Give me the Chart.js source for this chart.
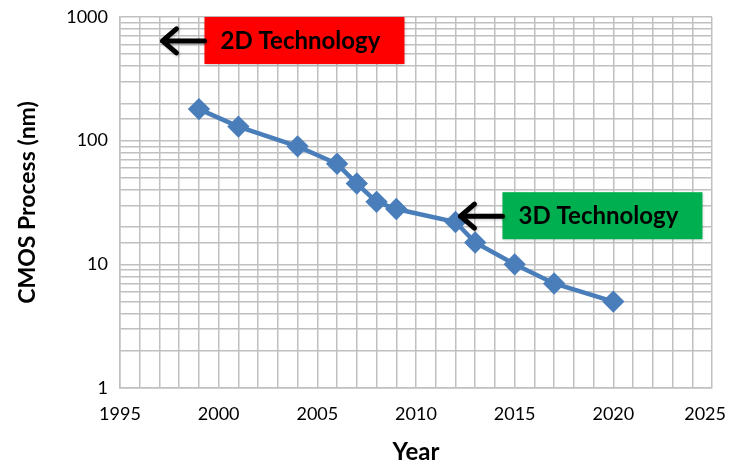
<!DOCTYPE html>
<html lang="en">
<head>
  <meta charset="UTF-8" />
  <title>CMOS Process by Year</title>
  <script src="https://cdn.jsdelivr.net/npm/chart.js"></script>
  <style>
    html, body {
      margin: 0;
      padding: 0;
      background: #fff;
    }
    #wrap {
      width: 730px;
      height: 471px;
    }
  </style>
</head>
<body>
  <div id="wrap">
    <canvas id="cmosChart" width="730" height="471"></canvas>
  </div>

  <script>
    // values
    const years = [1999, 2001, 2004, 2006, 2007, 2008, 2009, 2012, 2013, 2015, 2017, 2020];
    const processNm = [180, 130, 90, 65, 45, 32, 28, 22, 15, 10, 7, 5];

    // callouts: text, box colour, where the arrow points (data units)
    const calloutText = ["2D Technology", "3D Technology"];
    const calloutColor = ["#ff0000", "#00b050"];
    const calloutYear = [1997, 2012.1];
    const calloutValue = [640, 24.5];

    const fontFamily = "Lato, 'Open Sans', sans-serif";
    const gridColor = "#c0c0c0";

    const calloutPlugin = {
      id: "callouts",
      afterDatasetsDraw(chart) {
        const ctx = chart.ctx;
        const xs = chart.scales.x;
        const ys = chart.scales.y;
        calloutText.forEach((text, i) => {
          const tipX = xs.getPixelForValue(calloutYear[i]);
          const tipY = ys.getPixelForValue(calloutValue[i]);
          const boxLeft = tipX + 45;
          const boxW = 200, boxH = 47;
          const boxTop = tipY - 24;

          ctx.save();
          // box
          ctx.shadowColor = "rgba(0,0,0,0.25)";
          ctx.shadowBlur = 3;
          ctx.shadowOffsetX = 1;
          ctx.shadowOffsetY = 1;
          ctx.fillStyle = calloutColor[i];
          ctx.fillRect(boxLeft, boxTop, boxW, boxH);

          // arrow
          ctx.strokeStyle = "#000";
          ctx.lineWidth = 5;
          ctx.lineCap = "round";
          ctx.lineJoin = "round";
          ctx.beginPath();
          ctx.moveTo(boxLeft, tipY);
          ctx.lineTo(tipX + 3, tipY);
          ctx.moveTo(tipX + 17, tipY - 12);
          ctx.lineTo(tipX + 3, tipY);
          ctx.lineTo(tipX + 17, tipY + 12);
          ctx.stroke();

          // text
          ctx.shadowColor = "transparent";
          ctx.fillStyle = "#000";
          ctx.font = "bold 24px " + fontFamily;
          ctx.textAlign = "center";
          ctx.textBaseline = "middle";
          ctx.fillText(text, boxLeft + boxW / 2 - 4, boxTop + boxH / 2 + 1);
          ctx.restore();
        });
      }
    };

    const ctx = document.getElementById("cmosChart").getContext("2d");

    new Chart(ctx, {
      type: "line",
      data: {
        datasets: [{
          label: "CMOS Process",
          data: years.map((yr, i) => ({ x: yr, y: processNm[i] })),
          borderColor: "#4a7ebb",
          backgroundColor: "#4a7ebb",
          borderWidth: 4.5,
          tension: 0,
          pointStyle: "rectRot",
          pointRadius: 8,
          pointHoverRadius: 8,
          pointBorderColor: "#4a7ebb",
          pointBackgroundColor: "#4a7ebb"
        }]
      },
      options: {
        responsive: false,
        animation: false,
        layout: {
          padding: 0
        },
        plugins: {
          legend: { display: false },
          tooltip: { enabled: false }
        },
        scales: {
          x: {
            type: "linear",
            min: 1995,
            max: 2025,
            afterFit: (scale) => {
              scale.height = 83;
              scale.paddingLeft = 0;
              scale.paddingRight = 18;
            },
            ticks: {
              stepSize: 1,
              autoSkip: false,
              maxRotation: 0,
              padding: 15,
              color: "#000",
              font: { family: fontFamily, size: 18 },
              // last label is nudged left so it stays inside the canvas
              callback: (v) => {
                if (v % 5 !== 0) return "";
                return v === 2025 ? String(v) + "   " : String(v);
              }
            },
            grid: {
              color: gridColor,
              lineWidth: 1.5,
              drawTicks: false
            },
            border: { color: gridColor, width: 1.5 },
            title: {
              display: true,
              text: "Year",
              color: "#000",
              font: { family: fontFamily, size: 24, weight: "bold" },
              padding: { top: 12 }
            }
          },
          y: {
            type: "logarithmic",
            min: 1,
            max: 1000,
            afterFit: (scale) => {
              scale.width = 120;
              scale.paddingTop = 17;
              scale.paddingBottom = 0;
            },
            ticks: {
              autoSkip: false,
              padding: 12,
              color: "#000",
              font: { family: fontFamily, size: 18 },
              callback: (v) => {
                const l = Math.log10(v);
                return Math.abs(l - Math.round(l)) < 1e-9 ? String(v) : "";
              }
            },
            grid: {
              color: gridColor,
              lineWidth: 1.5,
              drawTicks: false
            },
            border: { color: gridColor, width: 1.5 },
            title: {
              display: true,
              text: "CMOS Process (nm)",
              color: "#000",
              font: { family: fontFamily, size: 23, weight: "bold" },
              padding: { top: 14, bottom: 4 }
            }
          }
        }
      },
      plugins: [calloutPlugin]
    });
  </script>
</body>
</html>
